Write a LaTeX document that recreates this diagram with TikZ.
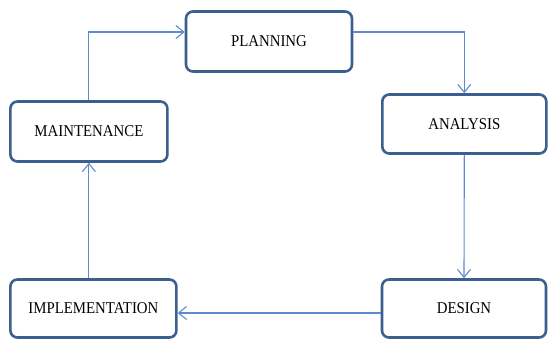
\documentclass[tikz,border=0pt]{standalone}
\usepackage{fontspec}
\setmainfont{Liberation Serif}
\usetikzlibrary{arrows.meta}
\definecolor{boxblue}{HTML}{3B5F8E}
\definecolor{linkblue}{HTML}{5E8BCB}
\newcommand{\phase}[1]{\scalebox{0.9}[1]{#1}}
\tikzset{
  phasebox/.style={draw=boxblue, line width=2.6pt, rounded corners=7pt, fill=white,
    inner sep=0pt, font=\fontsize{16.5}{18}\selectfont},
  link/.style={draw=linkblue, line width=1.1pt, -{Straight Barb[length=8pt,width=13pt,line width=1.1pt]}}
}
\begin{document}
\begin{tikzpicture}[x=1pt,y=-1pt]
\useasboundingbox (0,0) rectangle (549,341);
\node[phasebox, minimum width=166, minimum height=60] (plan)  at (269,41.5)  {\phase{PLANNING}};
\node[phasebox, minimum width=157, minimum height=60] (maint) at (88.9,131.5) {\phase{MAINTENANCE}};
\node[phasebox, minimum width=164, minimum height=59] (anal)  at (464.3,124)  {\phase{ANALYSIS}};
\node[phasebox, minimum width=166, minimum height=58] (impl)  at (93.4,308.5) {\phase{IMPLEMENTATION}};
\node[phasebox, minimum width=164, minimum height=58] (des)   at (464,308.5)  {\phase{DESIGN}};
\coordinate (top) at (0,32);
\coordinate (low) at (0,313);
\draw[link] (maint.north) |- (plan.west |- top);
\draw[link] (plan.east |- top) -| (anal.north);
\draw[link] (anal.south) -- (des.north);
\draw[link] (des.west |- low) -- (impl.east |- low);
\draw[link] (impl.north -| maint.north) -- (maint.south);
\end{tikzpicture}
\end{document}
